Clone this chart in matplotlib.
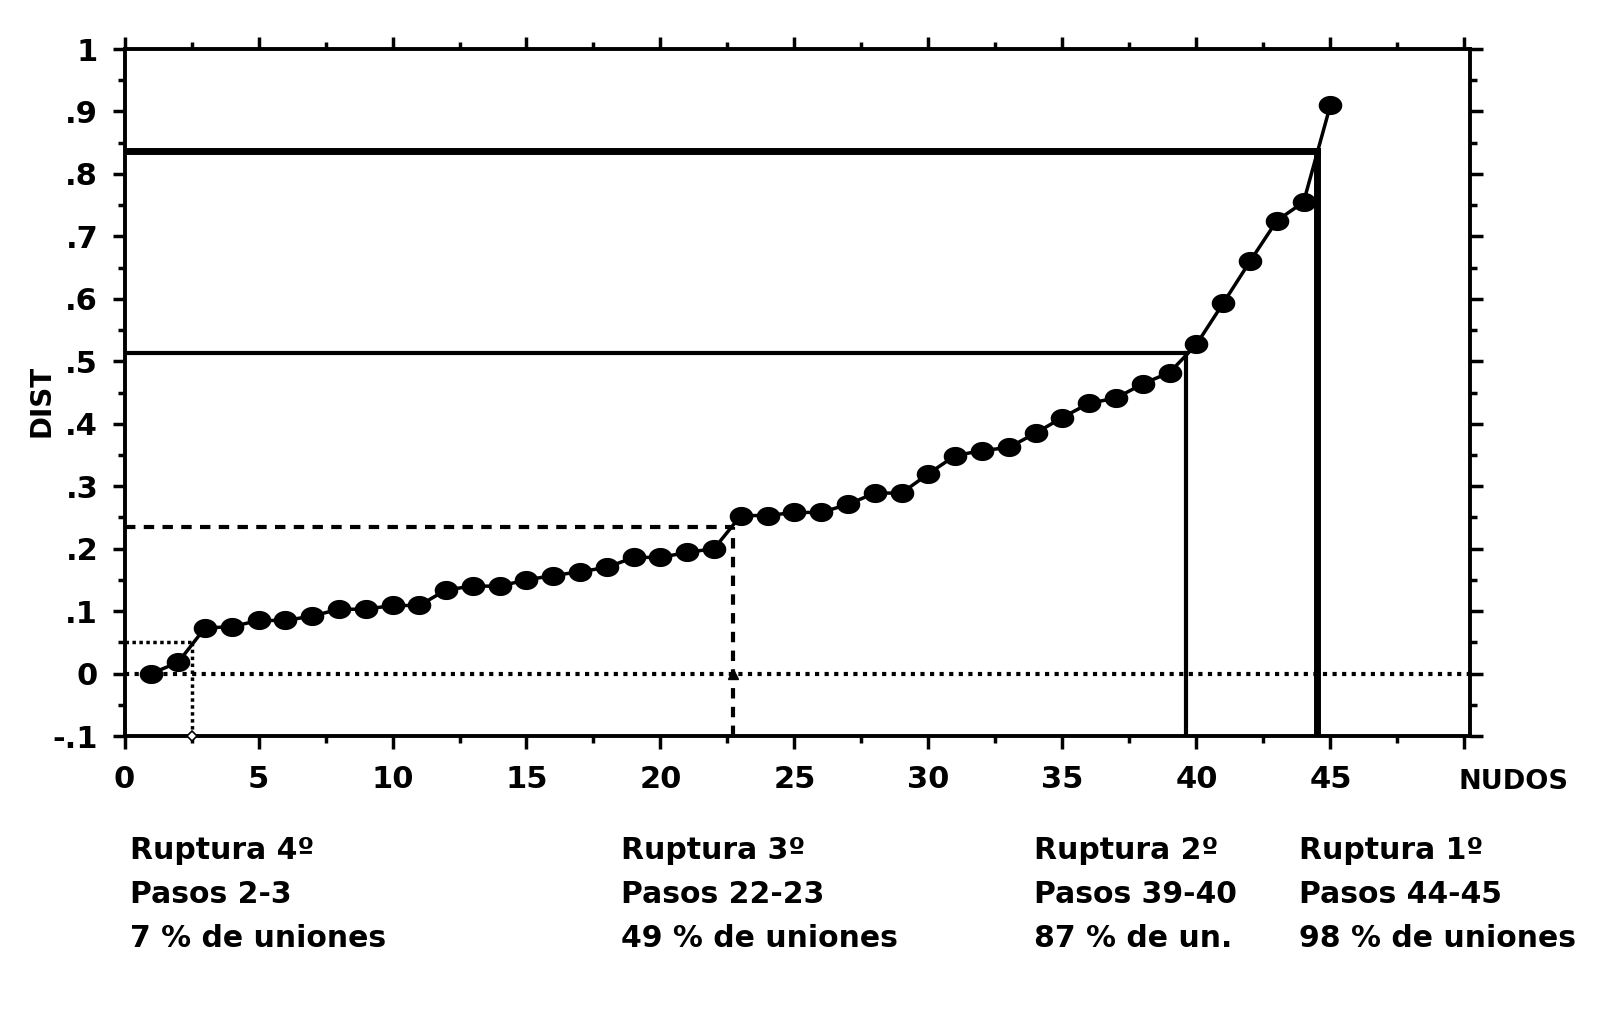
import numpy as np
import matplotlib
matplotlib.use("Agg")
import matplotlib.pyplot as plt
from matplotlib.ticker import MultipleLocator
from matplotlib.path import Path
from matplotlib.transforms import ScaledTranslation

# data
nudos = list(range(1, 46))
dist = [0.000, 0.018, 0.073, 0.075, 0.085, 0.085, 0.092, 0.103, 0.103, 0.109,
        0.109, 0.134, 0.140, 0.140, 0.150, 0.157, 0.163, 0.170, 0.186, 0.186,
        0.194, 0.200, 0.253, 0.253, 0.258, 0.258, 0.271, 0.289, 0.289, 0.320,
        0.349, 0.357, 0.362, 0.385, 0.410, 0.433, 0.441, 0.464, 0.482, 0.527,
        0.593, 0.660, 0.725, 0.755, 0.910]

# cut points (x position, dist level)
cut_x = [2.5, 22.7, 39.6, 44.5]
cut_y = [0.050, 0.235, 0.513, 0.837]

yticks = [-0.1, 0, 0.1, 0.2, 0.3, 0.4, 0.5, 0.6, 0.7, 0.8, 0.9, 1.0]
ylabels = ['-.1', '0', '.1', '.2', '.3', '.4', '.5', '.6', '.7', '.8', '.9', '1']
xticks = [0, 5, 10, 15, 20, 25, 30, 35, 40, 45, 50]
xlabels = ['0', '5', '10', '15', '20', '25', '30', '35', '40', '45', 'NUDOS']

notes = [
    "Ruptura 4º\nPasos 2-3\n7 % de uniones",
    "Ruptura 3º\nPasos 22-23\n49 % de uniones",
    "Ruptura 2º\nPasos 39-40\n87 % de un.",
    "Ruptura 1º\nPasos 44-45\n98 % de uniones",
]
note_x = [130, 621, 1034, 1299]

plt.rcParams['font.family'] = 'DejaVu Sans'

fig = plt.figure(figsize=(16.01, 10.11), dpi=100)
ax = fig.add_axes([0.0778, 0.272, 0.918 - 0.0778, 0.9515 - 0.272])

ax.set_xlim(0, 50.2)
ax.set_ylim(-0.1, 1.0)

# zero line
ax.axhline(0, color='black', lw=3, ls=(0, (1, 1.3)), zorder=1)

# break lines
styles = [
    dict(lw=2.5, ls=(0, (1, 1))),
    dict(lw=3, ls=(0, (2.5, 2))),
    dict(lw=3, ls='-'),
    dict(lw=5, ls='-'),
]
for cx, cy, st in zip(cut_x, cut_y, styles):
    ax.plot([0, cx], [cy, cy], color='black', zorder=2, **st)
    ax.plot([cx, cx], [-0.1, cy], color='black', zorder=2, **st)

# small marks where the first two cut lines meet the axis / zero line
ax.plot([cut_x[0]], [-0.1], marker='D', ms=5, mfc='white', mec='black',
        mew=1.2, clip_on=False, zorder=4)
ax.plot([cut_x[1]], [0], marker='^', ms=7, color='black', zorder=4)

# slightly wide elliptic dot, like the original
t = np.linspace(0, 2 * np.pi, 40)
ellipse = Path(np.column_stack([1.25 * np.cos(t), np.sin(t)]), closed=True)
ax.plot(nudos, dist, color='black', lw=2.5, marker=ellipse, markersize=16,
        zorder=3)

ax.set_xticks(xticks)
ax.set_xticklabels(xlabels)
ax.set_yticks(yticks)
ax.set_yticklabels(ylabels)
ax.xaxis.set_minor_locator(MultipleLocator(2.5))
ax.yaxis.set_minor_locator(MultipleLocator(0.05))
ax.tick_params(which='both', direction='out', top=True, right=True,
               labeltop=False, labelright=False, width=2.5)
ax.tick_params(which='major', length=9, labelsize=22)
ax.tick_params(axis='x', which='major', pad=12)
ax.tick_params(axis='y', which='major', pad=10)
ax.tick_params(which='minor', length=5)
for lab in ax.get_xticklabels() + ax.get_yticklabels():
    lab.set_fontweight('bold')
last = ax.get_xticklabels()[-1]
last.set_fontsize(19.5)
last.set_horizontalalignment('left')
last.set_transform(last.get_transform() + ScaledTranslation(-6 / 100, -4 / 100, fig.dpi_scale_trans))
for s in ax.spines.values():
    s.set_linewidth(2.8)

fig.text(41 / 1601, 1 - 401 / 1011, 'DIST', rotation=90, fontsize=20,
         fontweight='bold', ha='center', va='center')

for txt, nx in zip(notes, note_x):
    fig.text(nx / 1601, 1 - 836 / 1011, txt, fontsize=21.5, fontweight='bold',
             ha='left', va='top', linespacing=1.65)

fig.savefig('out.png', dpi=100)
